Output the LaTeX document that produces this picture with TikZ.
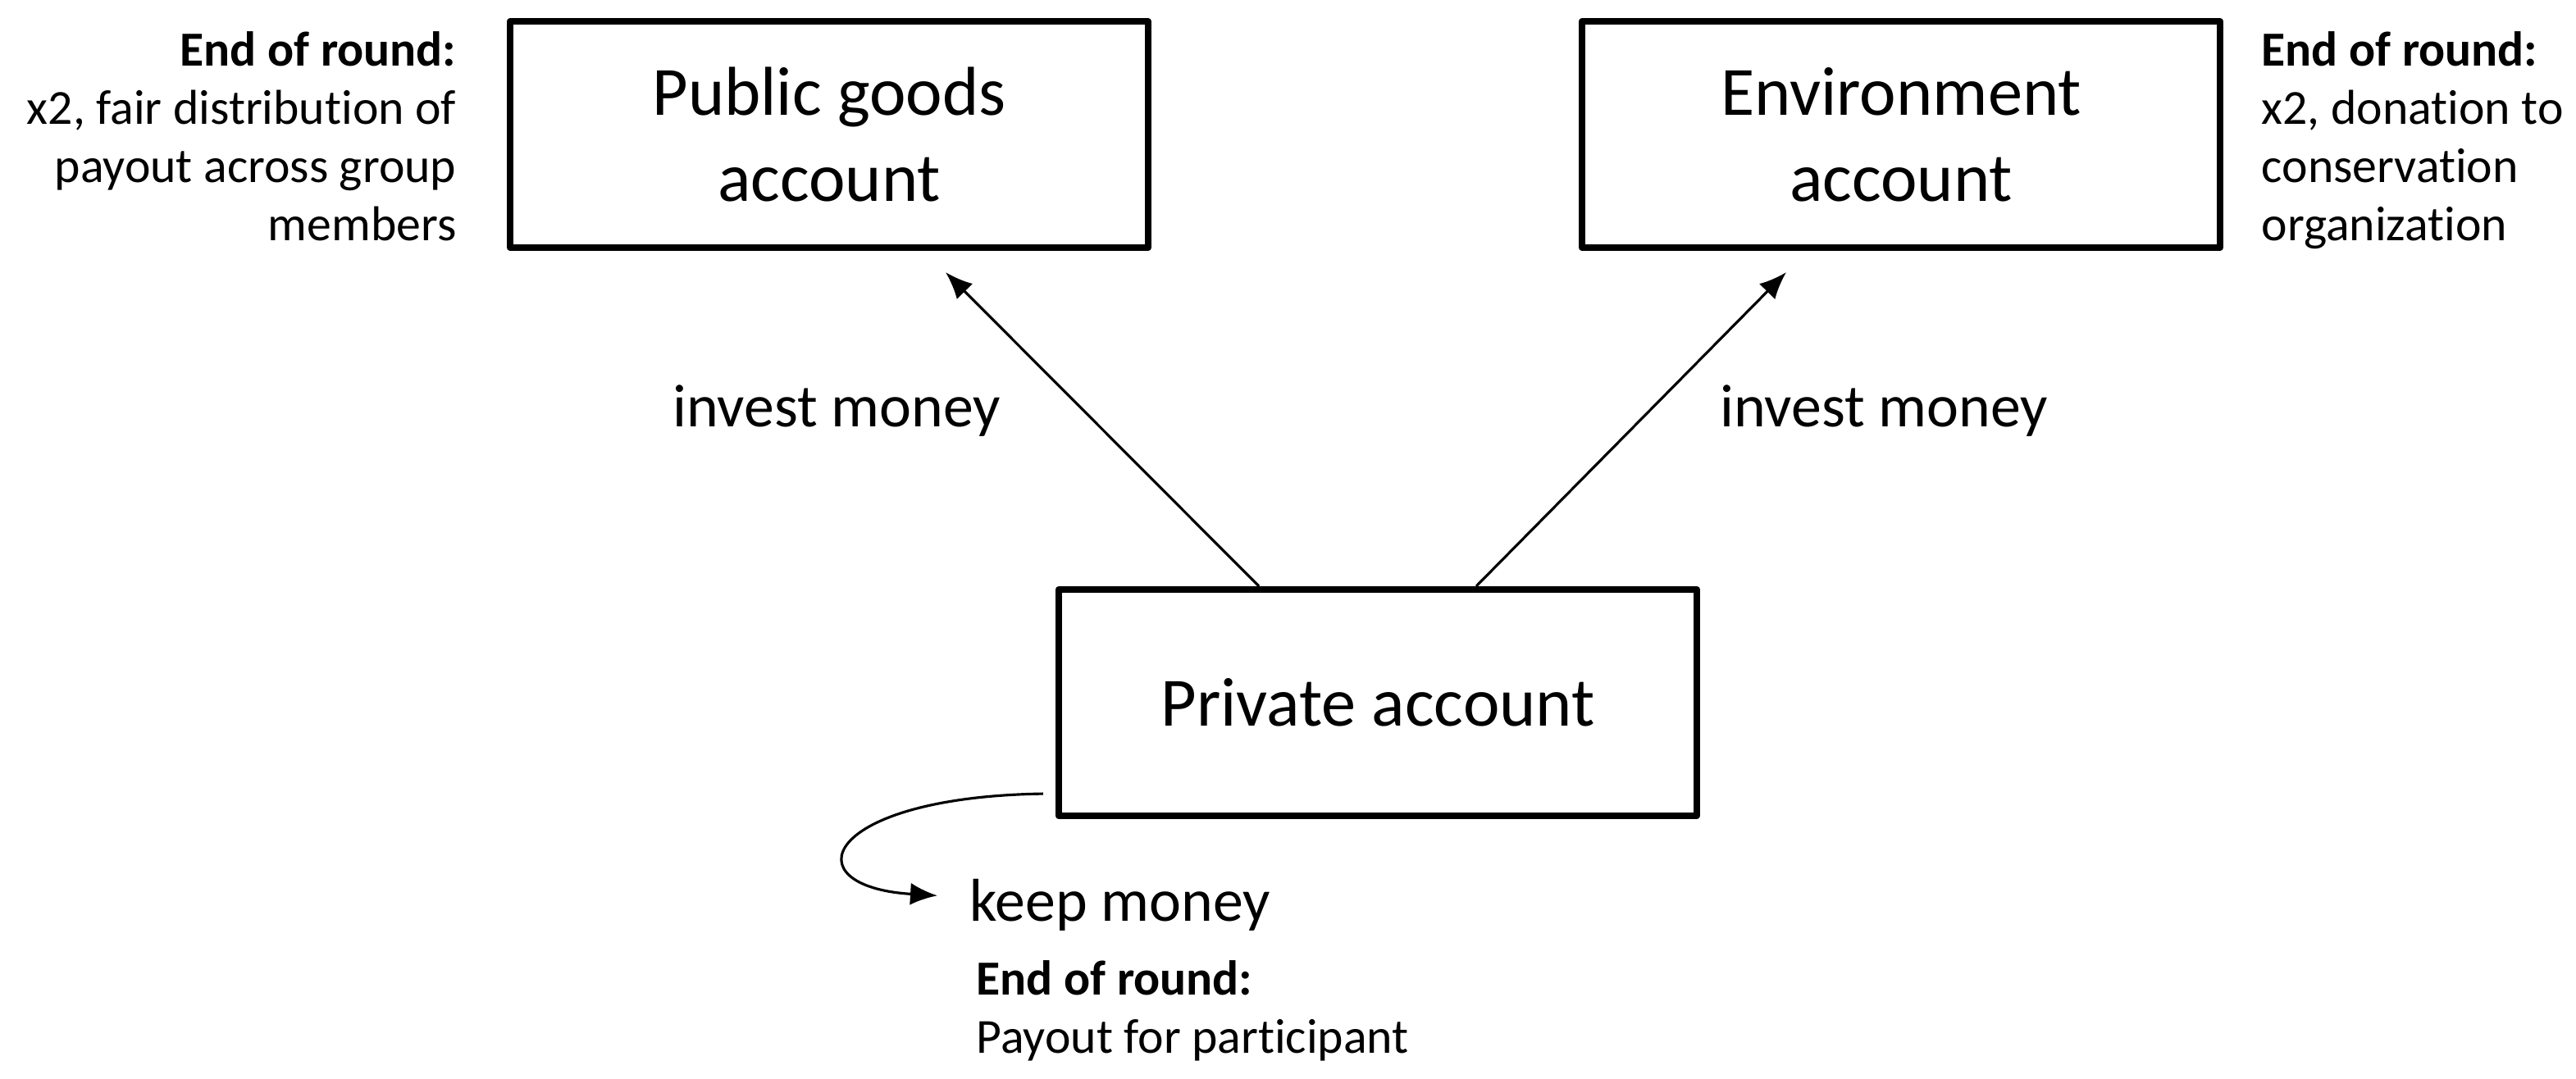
\documentclass[tikz,border=0pt]{standalone}
\usepackage{fontspec}
\setmainfont{Carlito}[Ligatures=NoCommon]
\usepackage{tikz}
\usetikzlibrary{calc}
\usetikzlibrary{arrows.meta}
\tikzset{>=latex}
\tikzstyle{acct} = [rectangle, draw=black, line width=2.3pt, line join=round, minimum width=7.78cm, minimum height=2.76cm, align=center, font=\fontsize{24}{30}\selectfont]
\tikzstyle{lbl} = [draw=none, inner sep=0, font=\fontsize{21}{25}\selectfont]
\tikzstyle{note} = [draw=none, inner sep=0, font=\fontsize{17}{20.2}\selectfont]
\tikzstyle{move} = [-{Latex[length=3.3mm, width=2.7mm]}, draw=black, line width=0.9pt]

\begin{document}
\begin{tikzpicture}
\useasboundingbox (0,0) rectangle (31.41,-13.15);
\node [acct] (pub) at (10.11, -1.64) {Public goods\\account};
\node [acct] (env) at (23.18, -1.64) {Environment\\account};
\node [acct] (priv) at (16.80, -8.57) {Private account};
\node [lbl, anchor=base] (inv1) at (10.20, -5.20) {invest money};
\node [lbl, anchor=base] (inv2) at (22.97, -5.20) {invest money};
\node [lbl, anchor=base west] (keep) at (11.82, -11.23) {keep money};
\node [note, anchor=north east, align=right] (pubnote) at (5.57, -0.38) {\textbf{End of round:}\\x2, fair distribution of\\payout across group\\members};
\node [note, anchor=north west, align=left] (envnote) at (27.57, -0.38) {\textbf{End of round:}\\x2, donation to\\conservation\\organization};
\node [note, anchor=north west, align=left] (privnote) at (11.90, -11.71) {\textbf{End of round:}\\Payout for participant};
\draw [move] ([xshift=-1.45cm]priv.north) -- ([xshift=1.42cm, yshift=-0.26cm]pub.south);
\draw [move] ([xshift=1.20cm]priv.north) -- ([xshift=-1.40cm, yshift=-0.26cm]env.south);
\draw [move] ([xshift=-0.15cm, yshift=0.31cm]priv.south west) .. controls +(-2.7,-0.04) and +(-1.8,0.11) .. ([xshift=-0.39cm, yshift=0.11cm]keep.west);
%\node [draw=none] at (16.8,-12.5) {};
\end{tikzpicture}
\end{document}
